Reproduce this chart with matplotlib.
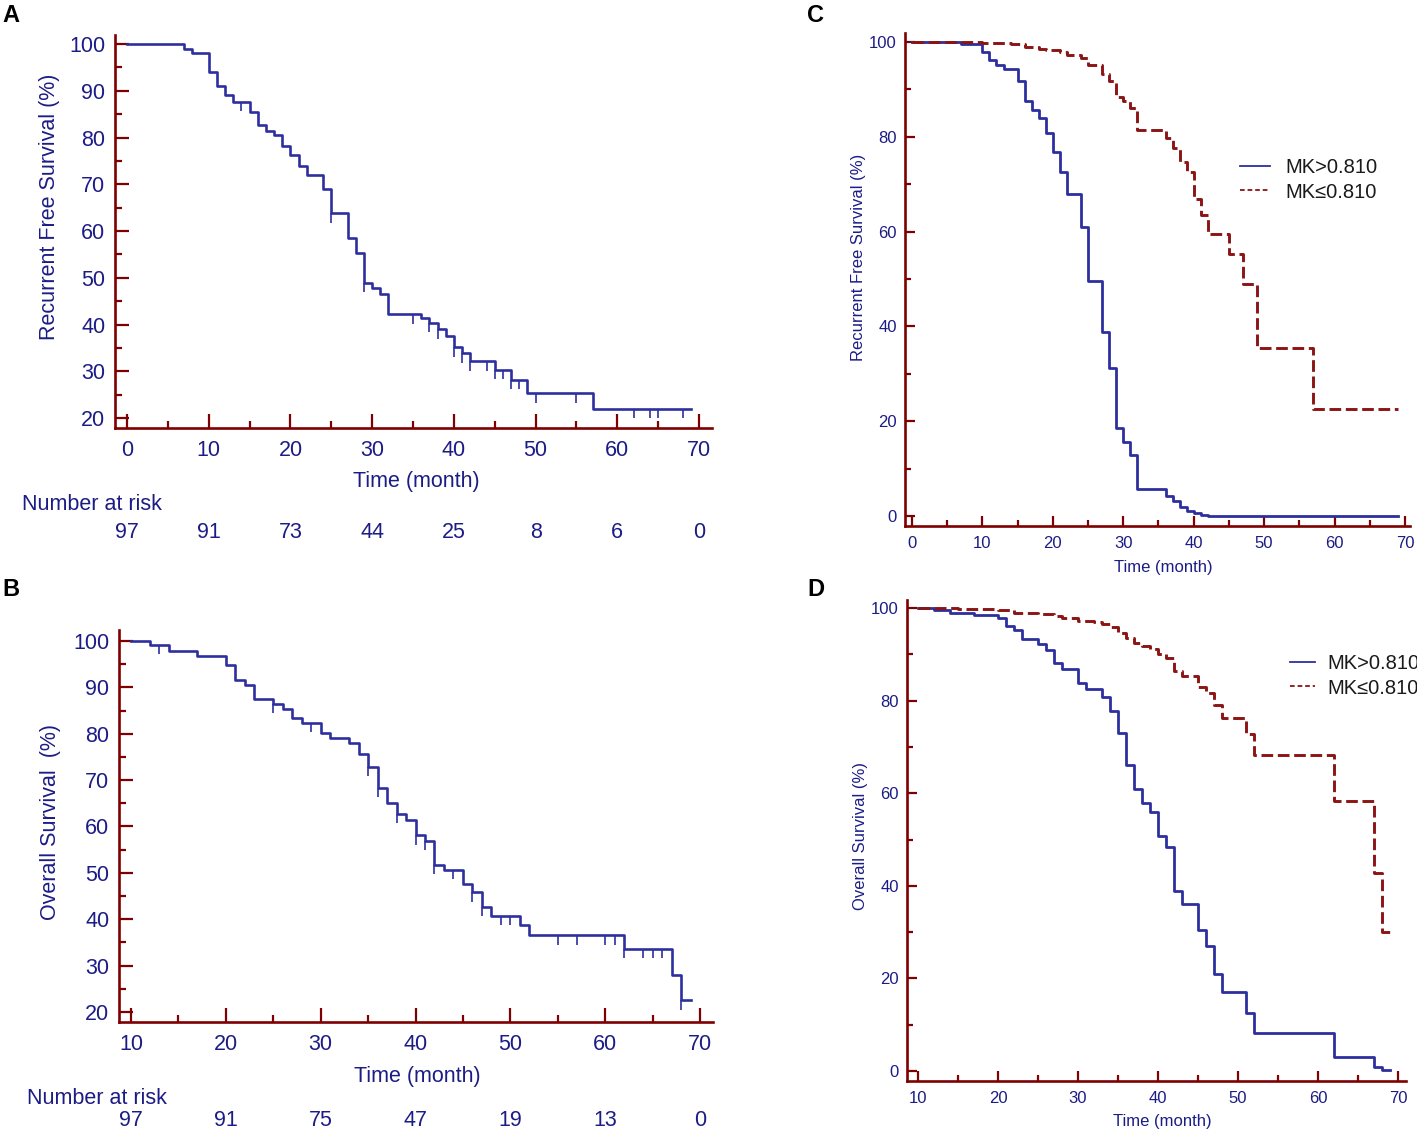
import numpy as np
import matplotlib
matplotlib.use('Agg')
import matplotlib.pyplot as plt
from matplotlib import font_manager
from matplotlib.lines import Line2D

W, H = 1417, 1132

# ---------------- data ----------------
# A: recurrence free survival, whole cohort
a_t = [0, 7, 8, 10, 11, 12, 13, 15, 16, 17, 18, 19, 20, 21, 22, 24, 25, 27, 28, 29,
       30, 31, 32, 36, 37, 38, 39, 40, 41, 42, 45, 47, 49, 57, 69]
a_s = [100, 99, 98, 94, 91, 89, 87.6, 85.5, 82.6, 81.5, 80.5, 78.2, 76.3, 74, 72, 69, 63.8,
       58.4, 55.2, 48.9, 47.9, 46.6, 42.2, 41.4, 40.3, 39, 37.6, 35.1, 33.8, 32.1, 30.3,
       28.2, 25.3, 21.9, 21.9]
a_cens = [14, 25, 29, 35, 37, 38, 40, 41, 42, 44, 45, 46, 47, 48, 50, 55, 62, 64, 65, 68]
a_risk_x = [0, 10, 20, 30, 40, 50, 60, 70]
a_risk = [97, 91, 73, 44, 25, 8, 6, 0]

# B: overall survival, whole cohort
b_t = [10, 12, 14, 17, 20, 21, 22, 23, 25, 26, 27, 28, 30, 31, 33, 34, 35, 36, 37, 38,
       39, 40, 41, 42, 43, 45, 46, 47, 48, 51, 52, 62, 67, 68, 69]
b_s = [100, 99.1, 97.9, 96.8, 94.9, 91.6, 90.5, 87.4, 86.4, 85.4, 83.4, 82.4, 80.1, 79, 78,
       75.7, 72.8, 68.4, 65, 62.7, 61.5, 58.1, 56.9, 51.7, 50.7, 47.7, 45.8, 42.6, 40.7,
       38.7, 36.5, 33.6, 28, 22.5, 22.5]
b_cens = [13, 25, 29, 35, 36, 38, 40, 41, 42, 44, 46, 47, 49, 50, 55, 57, 60, 61, 62,
          64, 65, 66, 68]
b_risk_x = [10, 20, 30, 40, 50, 60, 70]
b_risk = [97, 91, 75, 47, 19, 13, 0]

# C: recurrence free survival by MK
c_hi_t = [0, 7, 10, 11, 12, 13, 15, 16, 17, 18, 19, 20, 21, 22, 24, 25, 27, 28, 29, 30,
          31, 32, 36, 37, 38, 39, 40, 41, 42, 69]
c_hi_s = [100, 99.5, 97.8, 96.3, 95.1, 94.3, 91.7, 87.5, 85.7, 83.9, 80.9, 76.8, 72.5, 68,
          61, 49.5, 38.8, 31.3, 18.5, 15.6, 12.9, 5.6, 4.3, 3.1, 1.9, 1.0, 0.6, 0.3, 0, 0]
c_lo_t = [0, 10, 14, 16, 18, 19, 21, 22, 24, 25, 27, 28, 29, 30, 31, 32, 36, 37, 38, 39,
          40, 41, 42, 45, 47, 49, 57, 69]
c_lo_s = [100, 99.8, 99.5, 99, 98.6, 98.3, 97.8, 97.2, 96.6, 95.1, 93.3, 91.7, 88.5, 87.5,
          86, 81.5, 79.8, 77.6, 74.7, 72.5, 66.9, 63.4, 59.5, 55.3, 48.9, 35.5, 22.6, 22.6]

# D: overall survival by MK
d_hi_t = [10, 12, 14, 17, 20, 21, 22, 23, 25, 26, 27, 28, 30, 31, 33, 34, 35, 36, 37, 38,
          39, 40, 41, 42, 43, 45, 46, 47, 48, 51, 52, 62, 67, 68, 69]
d_hi_s = [100, 99.5, 99, 98.5, 97.9, 96.2, 95.3, 93.2, 92.2, 90.9, 88.2, 86.9, 83.9, 82.4,
          80.8, 77.8, 72.9, 66.2, 61, 57.8, 56, 50.8, 48.4, 38.9, 36.1, 30.4, 27, 21, 17.1,
          12.5, 8.1, 3, 0.8, 0.3, 0.3]
d_lo_t = [10, 15, 20, 22, 25, 27, 28, 30, 32, 33, 34, 35, 36, 37, 38, 39, 40, 41, 42, 43,
          45, 46, 47, 48, 51, 52, 62, 67, 68, 69]
d_lo_s = [100, 99.8, 99.5, 99, 98.7, 98.2, 97.8, 97.2, 97, 96.5, 95.8, 94.5, 93.5, 92.5,
          91.8, 91.2, 90.1, 89.3, 86.5, 85.3, 83, 81.7, 79, 76.2, 72.8, 68.3, 58.4, 42.7,
          30.1, 30.1]

legend_labels = ['MK>0.810', 'MK\u22640.810']

# ---------------- style ----------------
RED = '#7f0000'
DASHRED = '#8b1414'
NAVY = '#1c1c86'
BLUE = '#2e2f9e'


def has_font(name):
    try:
        font_manager.findfont(font_manager.FontProperties(family=name), fallback_to_default=False)
        return True
    except Exception:
        return False


if has_font('Liberation Sans Narrow'):
    NARROW, FS_AB = 'Liberation Sans Narrow', 18
else:
    NARROW, FS_AB = 'Liberation Sans', 15.5
plt.rcParams['font.family'] = ['Liberation Sans', 'DejaVu Sans']
FS_CD = 12


def rect(l, t, r, b):
    return [l / W, 1 - b / H, (r - l) / W, (b - t) / H]


def style(ax, xt, yt, xminor, yminor, fam, fs, maj, mnr):
    for s in ['top', 'right']:
        ax.spines[s].set_visible(False)
    for s in ['left', 'bottom']:
        ax.spines[s].set_color(RED)
        ax.spines[s].set_linewidth(1.9)
    ax.set_xticks(xt)
    ax.set_xticklabels([str(v) for v in xt], family=fam, size=fs)
    ax.set_yticks(yt)
    ax.set_yticklabels([str(v) for v in yt], family=fam, size=fs)
    ax.set_xticks(xminor, minor=True)
    ax.set_yticks(yminor, minor=True)
    ax.tick_params(which='both', direction='in', color=RED, labelcolor=NAVY, width=1.6)
    ax.tick_params(which='major', length=maj)
    ax.tick_params(which='minor', length=mnr)


def censor(ax, t, s, marks, length):
    t = np.array(t)
    s = np.array(s)
    ys = [s[np.searchsorted(t, c, side='right') - 1] for c in marks]
    ax.vlines(marks, np.array(ys) - length, ys, color=BLUE, lw=1.2)


fig = plt.figure(figsize=(W / 100, H / 100), dpi=100)

# ---------- A ----------
ax = fig.add_axes(rect(115, 35, 712, 428))
ax.step(a_t, a_s, where='post', color=BLUE, lw=1.9)
censor(ax, a_t, a_s, a_cens, 2.0)
ax.set_xlim(-1.47, 71.59)
ax.set_ylim(17.86, 101.93)
style(ax, range(0, 71, 10), range(20, 101, 10), range(5, 71, 10), range(25, 101, 10),
      NARROW, FS_AB, 10, 5)
ax.tick_params(axis='x', pad=9)
ax.tick_params(axis='y', pad=7)
ax.set_xlabel('Time (month)', family=NARROW, size=FS_AB, color=NAVY, va='center')
ax.xaxis.set_label_coords(0.504, -0.137)
ax.set_ylabel('Recurrent Free Survival (%)', family=NARROW, size=FS_AB, color=NAVY, va='center')
ax.yaxis.set_label_coords(-0.109, 0.562)
tr = ax.get_xaxis_transform()
ax.text(-12.8, (428 - 505) / 393, 'Number at risk', transform=tr, ha='left', va='center',
        family=NARROW, size=FS_AB, color=NAVY)
for x, n in zip(a_risk_x, a_risk):
    ax.text(x, (428 - 533) / 393, str(n), transform=tr, ha='center', va='center',
            family=NARROW, size=FS_AB, color=NAVY)

# ---------- B ----------
ax = fig.add_axes(rect(119, 630, 713, 1022))
ax.step(b_t, b_s, where='post', color=BLUE, lw=1.9)
censor(ax, b_t, b_s, b_cens, 2.0)
ax.set_xlim(8.73, 71.37)
ax.set_ylim(17.84, 102.37)
style(ax, range(10, 71, 10), range(20, 101, 10), range(15, 71, 10), range(25, 101, 10),
      NARROW, FS_AB, 10, 5)
ax.tick_params(axis='x', pad=9)
ax.tick_params(axis='y', pad=7)
ax.set_xlabel('Time (month)', family=NARROW, size=FS_AB, color=NAVY, va='center')
ax.xaxis.set_label_coords(0.503, -0.14)
ax.set_ylabel('Overall Survival  (%)', family=NARROW, size=FS_AB, color=NAVY, va='center')
ax.yaxis.set_label_coords(-0.116, 0.51)
tr = ax.get_xaxis_transform()
ax.text(-1.0, (1022 - 1098) / 392, 'Number at risk', transform=tr, ha='left', va='center',
        family=NARROW, size=FS_AB, color=NAVY)
for x, n in zip(b_risk_x, b_risk):
    ax.text(x, (1022 - 1121) / 392, str(n), transform=tr, ha='center', va='center',
            family=NARROW, size=FS_AB, color=NAVY)

# ---------- C ----------
ax = fig.add_axes(rect(905, 33, 1410, 526))
ax.step(c_hi_t, c_hi_s, where='post', color=BLUE, lw=2.0)
ax.step(c_lo_t, c_lo_s, where='post', color=DASHRED, lw=2.1, dashes=(4, 1.6))
ax.set_xlim(-0.99, 70.71)
ax.set_ylim(-2.11, 101.9)
style(ax, range(0, 71, 10), range(0, 101, 20), range(5, 71, 10), range(10, 101, 20),
      'Liberation Sans', FS_CD, 7, 4)
ax.tick_params(axis='x', pad=7)
ax.tick_params(axis='y', pad=6)
ax.set_xlabel('Time (month)', size=FS_CD, color=NAVY, va='center')
ax.xaxis.set_label_coords(0.511, -0.085)
ax.set_ylabel('Recurrent Free Survival (%)', size=FS_CD, color=NAVY, va='center')
ax.yaxis.set_label_coords(-0.093, 0.544)
handles = [Line2D([], [], color=BLUE, lw=1.3),
           Line2D([], [], color=DASHRED, lw=1.3, dashes=(2.6, 1.6))]
fig.legend(handles, legend_labels, loc='center left', bbox_to_anchor=(1240 / W, 1 - 180 / H),
           frameon=False, fontsize=14.5, handlelength=1.5, handletextpad=0.75,
           labelspacing=0.25, borderpad=0, borderaxespad=0, labelcolor='#1a1a1a')

# ---------- D ----------
ax = fig.add_axes(rect(907, 600, 1406, 1081))
ax.step(d_hi_t, d_hi_s, where='post', color=BLUE, lw=2.0)
ax.step(d_lo_t, d_lo_s, where='post', color=DASHRED, lw=2.1, dashes=(4, 1.6))
ax.set_xlim(8.625, 71)
ax.set_ylim(-2.16, 101.73)
style(ax, range(10, 71, 10), range(0, 101, 20), range(15, 71, 10), range(10, 101, 20),
      'Liberation Sans', FS_CD, 7, 4)
ax.tick_params(axis='x', pad=7)
ax.tick_params(axis='y', pad=6)
ax.set_xlabel('Time (month)', size=FS_CD, color=NAVY, va='center')
ax.xaxis.set_label_coords(0.511, -0.085)
ax.set_ylabel('Overall Survival (%)', size=FS_CD, color=NAVY, va='center')
ax.yaxis.set_label_coords(-0.094, 0.509)
fig.legend(handles, legend_labels, loc='center left', bbox_to_anchor=(1290 / W, 1 - 676 / H),
           frameon=False, fontsize=14.5, handlelength=1.25, handletextpad=0.6,
           labelspacing=0.25, borderpad=0, borderaxespad=0, labelcolor='#1a1a1a')

# panel letters
for lab, (px, py) in zip('ABCD', [(11, 16), (11, 590), (816, 15), (816, 590)]):
    fig.text(px / W, 1 - py / H, lab, ha='center', va='center', fontsize=17,
             fontweight='bold', color='black')

fig.savefig('out.png', dpi=100)
